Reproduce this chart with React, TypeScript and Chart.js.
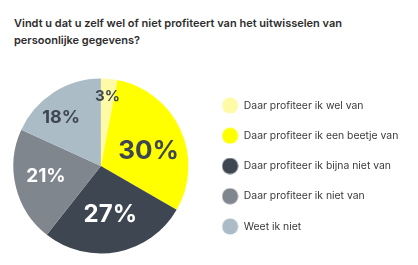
import React, { useEffect, useRef } from "react";
import { Chart, registerables } from "chart.js";

Chart.register(...registerables);

const titleLines = [
  "Vindt u dat u zelf wel of niet profiteert van het uitwisselen van",
  "persoonlijke gegevens?",
];
const categories = [
  "Daar profiteer ik wel van",
  "Daar profiteer ik een beetje van",
  "Daar profiteer ik bijna niet van",
  "Daar profiteer ik niet van",
  "Weet ik niet",
];
const values = [3, 30, 27, 21, 18];
const valueLabels = ["3%", "30%", "27%", "21%", "18%"];
const colors = ["#FFFAA6", "#FFFF00", "#3E4651", "#80868D", "#ACBCC7"];

const W = 418;
const H = 265;

const labelStyle = {
  size: [15, 26, 24, 19, 18],
  color: ["#3E4651", "#3E4651", "#FFFFFF", "#FFFFFF", "#3E4651"],
  radius: [0.8, 0.57, 0.57, 0.64, 0.72],
  shift: [0, 7.6, 0, 2.6, -6.5],
};

const sliceLabels = {
  id: "sliceLabels",
  afterDatasetsDraw(chart: any) {
    const meta = chart.getDatasetMeta(0);
    const ctx = chart.ctx;
    ctx.save();
    ctx.textAlign = "center";
    ctx.textBaseline = "middle";
    meta.data.forEach((arc: any, i: number) => {
      const p = arc.getProps(["x", "y", "startAngle", "endAngle", "outerRadius"], true);
      const mid = (p.startAngle + p.endAngle) / 2 + (labelStyle.shift[i] * Math.PI) / 180;
      const r = p.outerRadius * labelStyle.radius[i];
      ctx.font = `700 ${labelStyle.size[i]}px Inter`;
      ctx.fillStyle = labelStyle.color[i];
      ctx.fillText(valueLabels[i], p.x + Math.cos(mid) * r, p.y + Math.sin(mid) * r);
    });
    ctx.restore();
  },
};

function makeDot(color: string) {
  const c = document.createElement("canvas");
  c.width = 17;
  c.height = 17;
  const g = c.getContext("2d")!;
  g.fillStyle = color;
  g.beginPath();
  g.arc(8.5, 8.5, 8, 0, Math.PI * 2);
  g.fill();
  return c;
}

export default function App() {
  const ref = useRef<HTMLCanvasElement | null>(null);
  useEffect(() => {
    if (!ref.current) return;
    const fontSize = 10.4;
    const pad = 19.85;
    const boxW = 17;
    const legendLeft = 199.5;
    const dots = colors.map(makeDot);
    const baseGen = (Chart as any).overrides.doughnut.plugins.legend.labels.generateLabels;

    const chart: any = new Chart(ref.current, {
      type: "pie",
      data: {
        labels: categories,
        datasets: [
          {
            data: values,
            backgroundColor: colors,
            borderWidth: 0,
          },
        ],
      },
      options: {
        responsive: false,
        animation: false,
        layout: { padding: { left: 0, top: 78.5, bottom: 11.5, right: 10 } },
        plugins: {
          title: { display: false },
          tooltip: { enabled: false },
          legend: {
            display: true,
            position: "right",
            align: "center",
            labels: {
              usePointStyle: true,
              pointStyleWidth: boxW,
              padding: pad,
              color: "#3A3A3A",
              font: { family: "Inter", size: fontSize, weight: "400" },
              generateLabels: (c: any) =>
                baseGen(c).map((it: any, i: number) => ({ ...it, pointStyle: dots[i] })),
            },
          },
        },
      },
      plugins: [sliceLabels],
    });
    const dx = chart.legend.left - legendLeft;
    chart.options.layout.padding.right = 10 + dx;
    chart.update();
    return () => chart.destroy();
  }, []);

  return (
    <div style={{ position: "absolute", left: 0, top: 0, width: W, height: H, background: "#fff" }}>
      <div
        style={{
          position: "absolute",
          left: 14,
          top: 14.5,
          fontFamily: "Inter",
          fontWeight: 600,
          fontSize: 11,
          lineHeight: "17.5px",
          color: "#2D2D2D",
          whiteSpace: "nowrap",
        }}
      >
        {titleLines.map((t, i) => (
          <div key={i}>{t}</div>
        ))}
      </div>
      <canvas ref={ref} width={W} height={H} style={{ position: "absolute", left: 0, top: 0 }} />
    </div>
  );
}
